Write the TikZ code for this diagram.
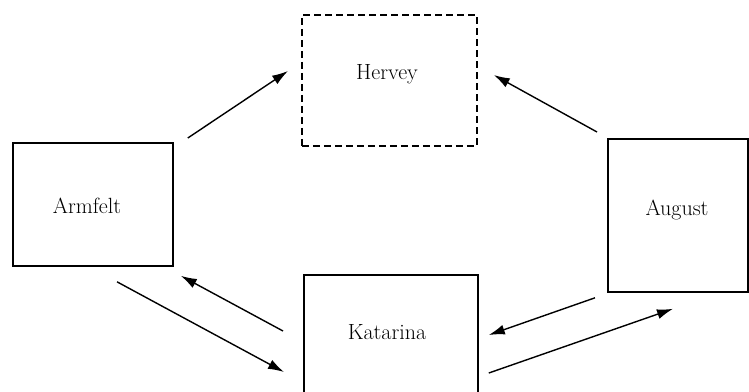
\documentclass[tikz,border=0pt]{standalone}
\usetikzlibrary{arrows.meta,calc}
\begin{document}
\begin{tikzpicture}[x=1pt,y=-1pt,
  box/.style={draw,line width=1.8pt,inner sep=0pt,anchor=north west},
  dbox/.style={box,dash pattern=on 7pt off 4pt},
  lbl/.style={font=\fontsize{22}{26}\selectfont,inner sep=0pt},
  arr/.style={line width=1.4pt,-{Latex[length=16pt,width=10pt]}}]
\useasboundingbox (0,0) rectangle (749,391);
\clip (0,0) rectangle (749,391);
% boxes
\node[dbox,minimum width=175pt,minimum height=131pt] (hervey) at (301,14) {};
\node[box,minimum width=160pt,minimum height=123pt] (armfelt) at (12,142) {};
\node[box,minimum width=140pt,minimum height=153pt] (august) at (607,138) {};
\node[box,minimum width=174pt,minimum height=130pt] (katarina) at (303,274) {};
% labels
\node[lbl] (herveyL) at (387,74) {Hervey};
\node[lbl] (armfeltL) at (87,206) {Armfelt};
\node[lbl] (augustL) at (677,210) {August};
\node[lbl] (katarinaL) at (387,332) {Katarina};
% connector end points
\coordinate (a1) at ($(armfelt.north east)+(14,-4)$);
\coordinate (h1) at ($(hervey.north west)+(-13,57)$);
\coordinate (u1) at ($(august.north west)+(-10,-6)$);
\coordinate (h2) at ($(hervey.north east)+(16,61)$);
\coordinate (a2) at ($(armfelt.south west)+(105,15)$);
\coordinate (k1) at ($(katarina.north west)+(-19,98)$);
\coordinate (k2) at ($(katarina.north west)+(-20,57)$);
\coordinate (a3) at ($(armfelt.south east)+(7,9)$);
\coordinate (u2) at ($(august.south west)+(-12,5)$);
\coordinate (k3) at ($(katarina.north east)+(10,61)$);
\coordinate (k4) at ($(katarina.north east)+(10,99)$);
\coordinate (u3) at ($(august.south west)+(66,16)$);
% connectors
\draw[arr] (a1) -- (h1);
\draw[arr] (u1) -- (h2);
\draw[arr] (a2) -- (k1);
\draw[arr] (k2) -- (a3);
\draw[arr] (u2) -- (k3);
\draw[arr] (k4) -- (u3);
\end{tikzpicture}
\end{document}
